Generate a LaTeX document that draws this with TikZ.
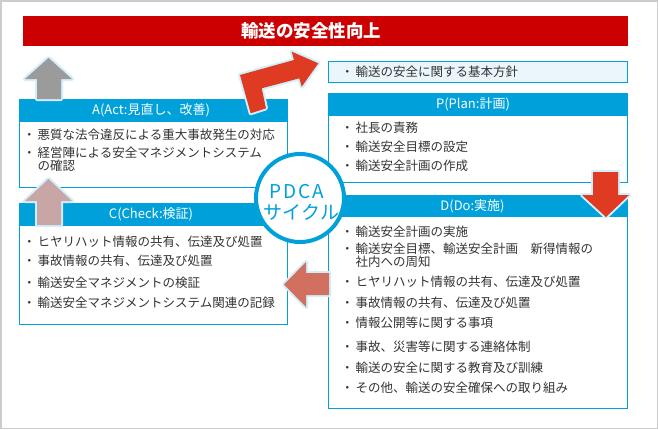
\documentclass[tikz,border=0pt]{standalone}
\usepackage{fontspec}
\newfontfamily\jp{Noto Sans CJK JP}
\definecolor{bannerred}{HTML}{CC0000}
\definecolor{pdcablue}{HTML}{00A0DA}
\definecolor{policybg}{HTML}{EBF6FC}
\definecolor{txtgrey}{HTML}{333333}
\definecolor{actgrey}{HTML}{9B9B9B}
\definecolor{checkpink}{HTML}{C9A6A6}
\definecolor{planred}{HTML}{DF3A22}
\definecolor{dosalmon}{HTML}{D27060}
\definecolor{glowblue}{HTML}{D3EEFA}
\definecolor{framegrey}{HTML}{CCCCCC}

\begin{document}
\begin{tikzpicture}[x=1pt,y=-1pt,
  box/.style={draw=pdcablue,line width=1pt,fill=white},
  head/.style={fill=pdcablue},
  headtext/.style={text=white,font=\jp\fontsize{13}{15}\selectfont,inner sep=0pt},
  item/.style={anchor=west,text=txtgrey,font=\jp\fontsize{12.5}{14}\selectfont,inner sep=0pt},
  glow/.style={preaction={draw=glowblue,line width=4pt,line join=round}}]
\draw[framegrey,line width=1.5pt,fill=white] (0.75,0.75) rectangle (657.25,428.25);
\useasboundingbox (0,0) rectangle (658,429);

% goal
\fill[bannerred] (23,16) rectangle (628,46);
\node[text=white,font=\jp\bfseries\fontsize{17.5}{20}\selectfont,inner sep=0pt] (goal) at (311,31) {輸送の安全性向上};

% policy
\draw[box,fill=policybg] (328,61) rectangle (627,82);
\node[item] (policy) at (341,71.5) {・\hspace{2pt}輸送の安全に関する基本方針};

% plan
\draw[box] (328,93) rectangle (627,182);
\fill[head] (328,93) rectangle (627,116);
\node[headtext] (plan) at (473,104.5) {P(Plan:計画)};
\node[item] (plan1) at (341,128) {・\hspace{2pt}社長の責務};
\node[item] (plan2) at (341,147) {・\hspace{2pt}輸送安全目標の設定};
\node[item] (plan3) at (341,166) {・\hspace{2pt}輸送安全計画の作成};

% do
\draw[box] (328,195) rectangle (627,408);
\fill[head] (328,195) rectangle (627,217);
\node[headtext] (do) at (472.5,206) {D(Do:実施)};
\node[item] (do1) at (341,232) {・\hspace{2pt}輸送安全計画の実施};
\node[item] (do2) at (341,249) {・\hspace{2pt}輸送安全目標、輸送安全計画　新得情報の};
\node[item] (do2b) at (355.5,262) {社内への周知};
\node[item] (do3) at (341,282) {・\hspace{2pt}ヒヤリハット情報の共有、伝達及び処置};
\node[item] (do4) at (341,303) {・\hspace{2pt}事故情報の共有、伝達及び処置};
\node[item] (do5) at (341,323) {・\hspace{2pt}情報公開等に関する事項};
\node[item] (do6) at (341,347) {・\hspace{2pt}事故、災害等に関する連絡体制};
\node[item] (do7) at (341,368) {・\hspace{2pt}輸送の安全に関する教育及び訓練};
\node[item] (do8) at (341,388) {・\hspace{2pt}その他、輸送の安全確保への取り組み};

% act
\draw[box] (19,99) rectangle (287,187);
\fill[head] (19,99) rectangle (287,122);
\node[headtext] (act) at (151,110.5) {A(Act:見直し、改善)};
\node[item] (act1) at (23,135) {・\hspace{2pt}悪質な法令違反による重大事故発生の対応};
\node[item] (act2) at (23,153) {・\hspace{2pt}経営陣による安全マネジメントシステム};
\node[item] (act2b) at (37.5,166) {の確認};

% check
\draw[box] (19,203) rectangle (287,324);
\fill[head] (19,203) rectangle (287,226);
\node[headtext] (check) at (151,214.5) {C(Check:検証)};
\node[item] (check1) at (23,242) {・\hspace{2pt}ヒヤリハット情報の共有、伝達及び処置};
\node[item] (check2) at (23,261) {・\hspace{2pt}事故情報の共有、伝達及び処置};
\node[item] (check3) at (23,283) {・\hspace{2pt}輸送安全マネジメントの検証};
\node[item] (check4) at (23,303) {・\hspace{2pt}輸送安全マネジメントシステム関連の記録};

% cycle arrows
\fill[actgrey,glow] (37,99) -- (37,79) -- (25,79) -- (48.5,58) -- (72,79) -- (61,79) -- (61,99) -- cycle;
\fill[checkpink,glow] (37,225) -- (37,201) -- (25,201) -- (48.5,179) -- (72,201) -- (61,201) -- (61,225) -- cycle;
\fill[planred,glow] (593,172) -- (618,172) -- (618,195) -- (629,195) -- (606,217) -- (582,195) -- (593,195) -- cycle;
\fill[dosalmon,glow] (329,273) -- (306,273) -- (306,262) -- (284,284.5) -- (306,307) -- (306,295) -- (329,295) -- cycle;
\fill[planred,glow] (250.7,113.3) -- (240,75) -- (294,60) -- (291.7,51.7) -- (318.3,63.3)
  -- (301.7,86.7) -- (299.3,78.3) -- (261.7,88.3) -- (266,108.3) -- cycle;

% centre
\draw[pdcablue,line width=4pt,fill=white] (300,198) circle (44pt);
\node[text=pdcablue,font=\jp\fontsize{19}{20}\selectfont,inner sep=0pt] (pdca) at (297,191.7) {P\kern2pt D\kern2pt C\kern2pt A};
\node[text=pdcablue,font=\jp\fontsize{19}{20}\selectfont,inner sep=0pt] (cycle) at (301.5,212) {サイクル};
\end{tikzpicture}
\end{document}
